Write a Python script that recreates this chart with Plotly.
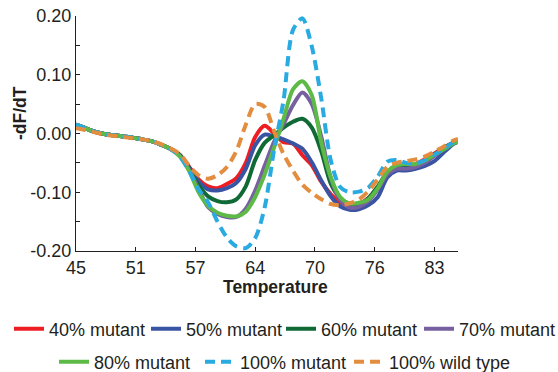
import plotly.graph_objects as go
import numpy as np

temperature = [45, 46, 47, 48, 49, 50, 51, 52, 53, 54, 55,
               56, 57, 58, 59, 60, 61, 62, 63, 64, 65, 66, 67, 68, 69, 70,
               71, 72, 73, 74, 75, 76, 77, 78, 79, 80, 81, 82, 83, 84, 85, 85.5]

early = [0.015, 0.009, 0.003, -0.001, -0.003, -0.005, -0.007, -0.010, -0.013, -0.019, -0.026]

mut40 = early + [-0.036, -0.057, -0.078, -0.090, -0.093, -0.086, -0.076, -0.050, -0.006, 0.013,
                 0.000, -0.015, -0.017, -0.037, -0.054, -0.082, -0.103, -0.117, -0.123, -0.120,
                 -0.110, -0.092, -0.068, -0.058, -0.057, -0.052, -0.044, -0.034, -0.024, -0.016, -0.013]
mut50 = early + [-0.037, -0.058, -0.082, -0.095, -0.097, -0.093, -0.084, -0.060, -0.020, -0.002,
                 -0.005, -0.010, -0.017, -0.026, -0.049, -0.080, -0.107, -0.124, -0.130, -0.129,
                 -0.122, -0.108, -0.075, -0.063, -0.063, -0.060, -0.055, -0.047, -0.032, -0.018, -0.014]
mut60 = early + [-0.037, -0.060, -0.088, -0.107, -0.115, -0.117, -0.112, -0.090, -0.045, -0.016,
                 -0.003, 0.010, 0.020, 0.025, 0.010, -0.030, -0.085, -0.110, -0.120, -0.120,
                 -0.110, -0.090, -0.066, -0.055, -0.056, -0.054, -0.047, -0.036, -0.025, -0.016, -0.013]
mut70 = early + [-0.038, -0.062, -0.095, -0.125, -0.137, -0.142, -0.142, -0.128, -0.097, -0.055,
                 -0.014, 0.016, 0.048, 0.070, 0.050, -0.005, -0.075, -0.113, -0.126, -0.125,
                 -0.115, -0.095, -0.070, -0.060, -0.060, -0.057, -0.050, -0.038, -0.026, -0.017, -0.014]
mut80 = early + [-0.039, -0.064, -0.100, -0.123, -0.135, -0.140, -0.141, -0.133, -0.108, -0.070,
                 -0.024, 0.025, 0.075, 0.089, 0.065, -0.015, -0.074, -0.108, -0.119, -0.118,
                 -0.112, -0.093, -0.065, -0.054, -0.052, -0.052, -0.046, -0.036, -0.027, -0.017, -0.014]
mut100 = early + [-0.039, -0.064, -0.095, -0.117, -0.150, -0.177, -0.192, -0.195, -0.178, -0.126,
                  -0.028, 0.056, 0.176, 0.196, 0.148, 0.060, -0.045, -0.091, -0.100, -0.099,
                  -0.092, -0.073, -0.048, -0.045, -0.050, -0.051, -0.045, -0.036, -0.026, -0.015, -0.012]
wild100 = [0.009, 0.006, 0.002, -0.002, -0.004, -0.006, -0.008, -0.010, -0.013, -0.018, -0.025,
           -0.035, -0.055, -0.071, -0.077, -0.071, -0.057, -0.030, 0.015, 0.050, 0.045,
           0.004, -0.035, -0.063, -0.087, -0.101, -0.112, -0.120, -0.122, -0.119, -0.112,
           -0.098, -0.078, -0.057, -0.050, -0.047, -0.044, -0.039, -0.031, -0.022, -0.012, -0.009]

series_names = ["40% mutant", "50% mutant", "60% mutant", "70% mutant",
                "80% mutant", "100% mutant", "100% wild type"]
series_values = [mut40, mut50, mut60, mut70, mut80, mut100, wild100]
colors = ["#EE1D23", "#3A54A4", "#0F6A35", "#76609F", "#5EBA47", "#29ABE2", "#E38D3F"]
dashes = ["solid", "solid", "solid", "solid", "solid", "10px,6px", "10px,6px"]

x_tick_labels = ["45", "51", "57", "64", "70", "76", "83"]
y_tick_vals = [-0.2, -0.1, 0.0, 0.1, 0.2]
y_tick_labels = ["-0.20", "-0.10", "0.00", "0.10", "0.20"]

FONT = "Liberation Sans, Arial, Helvetica, sans-serif"
W, H = 558, 372

# legend text start positions (px) and rows
legend_text_x = [49, 186, 321, 459, 94, 240, 389]
legend_row_y = [329, 329, 329, 329, 362, 362, 362]

fig = go.Figure()
for i, (name, vals, col, dsh) in enumerate(zip(series_names, series_values, colors, dashes)):
    lid = "legend" if i == 0 else f"legend{i+1}"
    fig.add_trace(go.Scatter(
        x=temperature, y=vals, mode="lines", name=name,
        line=dict(color=col, width=4, dash=dsh, shape="spline", smoothing=0.8),
        legend=lid, showlegend=True,
    ))

legends = {}
for i in range(len(series_names)):
    lid = "legend" if i == 0 else f"legend{i+1}"
    legends[lid] = dict(
        x=(legend_text_x[i] - 40) / W, y=1 - legend_row_y[i] / H,
        xref="container", yref="container",
        xanchor="left", yanchor="middle", orientation="h",
        font=dict(family=FONT, size=18, color="#231F20"),
        bgcolor="rgba(0,0,0,0)", borderwidth=0,
    )

fig.update_layout(
    width=W, height=H, showlegend=True,
    margin=dict(l=76, r=100, t=16, b=121, autoexpand=False),
    paper_bgcolor="white", plot_bgcolor="white",
    font=dict(family=FONT, size=18, color="#231F20"),
    **legends,
    xaxis=dict(
        range=[45, 85.5], tickmode="array",
        tickvals=list(np.linspace(45, 83, len(x_tick_labels))), ticktext=x_tick_labels,
        ticks="inside", ticklen=4, tickcolor="#231F20", tickwidth=1,
        showline=True, linecolor="#231F20", linewidth=1.2,
        showgrid=False, zeroline=False,
        tickfont=dict(family=FONT, size=18, color="#231F20"),
    ),
    yaxis=dict(
        range=[-0.2, 0.2], tickmode="array",
        tickvals=y_tick_vals, ticktext=y_tick_labels,
        ticks="inside", ticklen=4, tickcolor="#231F20", tickwidth=1,
        minor=dict(tickmode="array", tickvals=[-0.15, -0.05, 0.05, 0.15],
                   ticks="inside", ticklen=4, tickcolor="#231F20"),
        showline=True, linecolor="#231F20", linewidth=1.2,
        showgrid=False, zeroline=False,
        tickfont=dict(family=FONT, size=18, color="#231F20"),
    ),
    annotations=[
        dict(text="<b>Temperature</b>", xref="paper", yref="paper",
             x=(275 - 76) / 382, y=(251 - 287) / 235, xanchor="center", yanchor="middle",
             showarrow=False, font=dict(family=FONT, size=17.5, color="#231F20")),
        dict(text="<b>-dF/dT</b>", xref="paper", yref="paper",
             x=(20 - 76) / 382, y=(251 - 113) / 235, xanchor="center", yanchor="middle",
             textangle=-90, showarrow=False, font=dict(family=FONT, size=17.5, color="#231F20")),
    ],
)

fig.write_html("out.html", config={"displayModeBar": False},
               post_script="document.body.style.margin='0px';")
